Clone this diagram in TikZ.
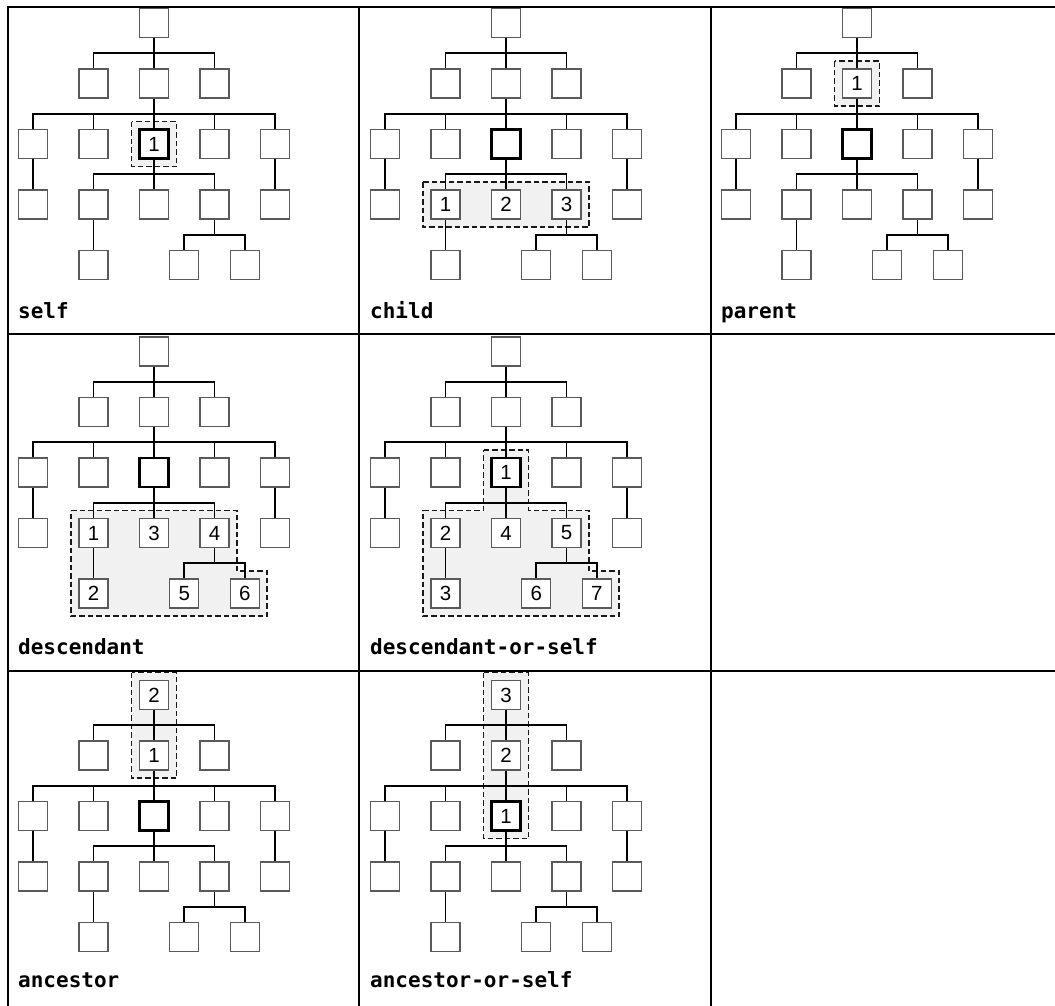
\documentclass[tikz,border=0pt]{standalone}
\usepackage{fontspec}
\newfontfamily\axisfont{DejaVu Sans Mono}
\newfontfamily\numfont{Liberation Sans}
\definecolor{boxgray}{HTML}{5A5A5A}
\definecolor{zonegray}{HTML}{F1F1F1}
\pgfdeclarelayer{hilite}
\pgfdeclarelayer{links}
\pgfsetlayers{hilite,links,main}
% number shown in a box: \numat{panel-node}{text}
\newcommand\numat[2]{\expandafter\def\csname n@#1\endcsname{#2}}
\numat{self-b3}{1}
\numat{child-c2}{1}\numat{child-c3}{2}\numat{child-c4}{3}
\numat{parent-a2}{1}
\numat{desc-c2}{1}\numat{desc-c3}{3}\numat{desc-c4}{4}
\numat{desc-d1}{2}\numat{desc-d2}{5}\numat{desc-d3}{6}
\numat{dos-b3}{1}\numat{dos-c2}{2}\numat{dos-c3}{4}\numat{dos-c4}{5}
\numat{dos-d1}{3}\numat{dos-d2}{6}\numat{dos-d3}{7}
\numat{anc-a2}{1}\numat{anc-r}{2}
\numat{aos-b3}{1}\numat{aos-a2}{2}\numat{aos-r}{3}
\begin{document}
\begin{tikzpicture}[x=1pt,y=-1pt,
  box/.style={draw=boxgray, fill=white, line width=1.2pt, minimum size=29pt,
    inner sep=0pt, font=\numfont\fontsize{20.5}{24}\selectfont},
  cur/.style={box, draw=black, line width=2.6pt},
  link/.style={line width=1.9pt},
  zone/.style={draw=black!90, fill=zonegray, dash pattern=on 5.5pt off 3pt, line width=1.8pt},
  grid/.style={line width=2.4pt},
  axis/.style={anchor=base west, inner sep=0pt, font=\axisfont\bfseries\fontsize{21}{24}\selectfont}]
\useasboundingbox (0,0) rectangle (1055,1005);

% table
\draw[grid] (8,1010) -- (8,7) -- (1060,7);
\draw[grid] (8,334) -- (1060,334);
\draw[grid] (8,671) -- (1060,671);
\draw[grid] (359,7) -- (359,1010);
\draw[grid] (711,7) -- (711,1010);

% one tree per panel
\foreach \p/\cx/\cy in {self/154/23, child/506/23, parent/857/23,
    desc/154/351.5, dos/506/351.5, anc/154/695, aos/506/695}{
  \begin{scope}[shift={(\cx,\cy)}]
    \node[box] (\p-r) at (0,0) {\csname n@\p-r\endcsname};
    \foreach \i in {1,2,3}
      \node[box] (\p-a\i) at ({(\i-2)*60.5},60.5) {\csname n@\p-a\i\endcsname};
    \foreach \i in {1,2,4,5}
      \node[box] (\p-b\i) at ({(\i-3)*60.5},121) {\csname n@\p-b\i\endcsname};
    \node[cur] (\p-b3) at (0,121) {\csname n@\p-b3\endcsname};
    \foreach \i in {1,...,5}
      \node[box] (\p-c\i) at ({(\i-3)*60.5},181.5) {\csname n@\p-c\i\endcsname};
    \node[box] (\p-d1) at (-60.5,242) {\csname n@\p-d1\endcsname};
    \node[box] (\p-d2) at (30.25,242) {\csname n@\p-d2\endcsname};
    \node[box] (\p-d3) at (90.75,242) {\csname n@\p-d3\endcsname};
  \end{scope}
  \begin{pgfonlayer}{links}
    \draw[link] (\p-r) -- (\p-a2);
    \draw[link] (\p-r) -- ++(0,30.25) -| (\p-a1);
    \draw[link] (\p-r) -- ++(0,30.25) -| (\p-a3);
    \draw[link] (\p-a2) -- (\p-b3);
    \foreach \j in {1,2,4,5}
      \draw[link] (\p-a2) -- ++(0,30.25) -| (\p-b\j);
    \draw[link] (\p-b1) -- (\p-c1);
    \draw[link] (\p-b5) -- (\p-c5);
    \draw[link] (\p-b3) -- (\p-c3);
    \draw[link] (\p-b3) -- ++(0,30.25) -| (\p-c2);
    \draw[link] (\p-b3) -- ++(0,30.25) -| (\p-c4);
    \draw[link] (\p-c2) -- (\p-d1);
    \draw[link] (\p-c4) -- ++(0,30.25) -| (\p-d2);
    \draw[link] (\p-c4) -- ++(0,30.25) -| (\p-d3);
  \end{pgfonlayer}
}

% selected nodes
\begin{pgfonlayer}{hilite}
\draw[zone] ([shift={(-22.5,-22.5)}]self-b3.center) rectangle ([shift={(22.5,22.5)}]self-b3.center);
\draw[zone] ([shift={(-22.5,-22.5)}]child-c2.center) rectangle ([shift={(22.5,22.5)}]child-c4.center);
\draw[zone] ([shift={(-22.5,-22.5)}]parent-a2.center) rectangle ([shift={(22.5,22.5)}]parent-a2.center);
\draw[zone] ([shift={(-22.5,-22.5)}]desc-c2.center) -- ([shift={(22.5,-22.5)}]desc-c4.center)
  |- ([shift={(22.5,-22.5)}]desc-d3.center) -- ([shift={(22.5,22.5)}]desc-d3.center)
  -| ([shift={(-22.5,-22.5)}]desc-c2.center) -- cycle;
\draw[zone] ([shift={(-22.5,-22.5)}]dos-b3.center) -- ([shift={(22.5,-22.5)}]dos-b3.center)
  |- ([shift={(22.5,-22.5)}]dos-c4.center) |- ([shift={(22.5,-22.5)}]dos-d3.center)
  -- ([shift={(22.5,22.5)}]dos-d3.center) -| ([shift={(-22.5,-22.5)}]dos-c2.center)
  -| ([shift={(-22.5,-22.5)}]dos-b3.center) -- cycle;
\draw[zone] ([shift={(-22.5,-22.5)}]anc-r.center) rectangle ([shift={(22.5,22.5)}]anc-a2.center);
\draw[zone] ([shift={(-22.5,-22.5)}]aos-r.center) rectangle ([shift={(22.5,22.5)}]aos-b3.center);
\end{pgfonlayer}

% axis names
\node[axis] (self-t) at (18,318) {self};
\node[axis] (child-t) at (370,318) {child};
\node[axis] (parent-t) at (721,318) {parent};
\node[axis] (desc-t) at (18,654) {descendant};
\node[axis] (dos-t) at (370,654) {descendant-or-self};
\node[axis] (anc-t) at (18,987) {ancestor};
\node[axis] (aos-t) at (370,987) {ancestor-or-self};
\end{tikzpicture}
\end{document}
